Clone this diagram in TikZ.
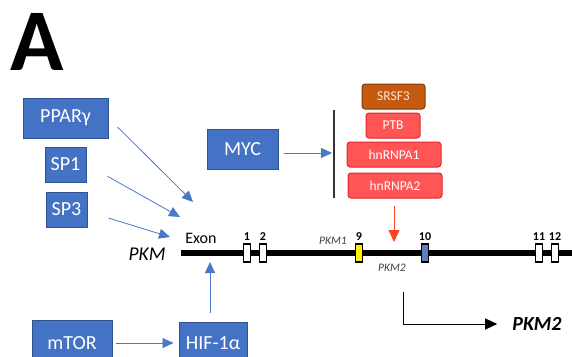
\documentclass[tikz,border=0pt]{standalone}
\usepackage{fontspec}
\setmainfont{Carlito}
\usepackage{xcolor}
\definecolor{tfblue}{HTML}{4472C4}
\definecolor{tfedge}{HTML}{2F528F}
\definecolor{arrowblue}{HTML}{4A78C8}
\definecolor{rbpred}{HTML}{FF5555}
\definecolor{rbpedge}{HTML}{E4252B}
\definecolor{srsfbrown}{HTML}{C55A11}
\definecolor{srsfedge}{HTML}{843C0C}
\definecolor{srsftext}{HTML}{FCE4D6}
\definecolor{exonten}{HTML}{5B80BC}
\definecolor{cuered}{HTML}{FF4422}
\usepackage{tikz}
\usetikzlibrary{arrows.meta,calc}

\tikzset{
  tfbox/.style={rectangle,draw=tfedge,fill=tfblue,line width=1pt,
    text=white,inner sep=0pt,font=\fontsize{20}{22}\selectfont},
  rbpbox/.style={rectangle,rounded corners=3pt,draw=rbpedge,fill=rbpred,
    line width=1pt,text=white,inner sep=0pt,minimum height=25pt,
    font=\fontsize{13.5}{15}\selectfont},
  exonbox/.style={rectangle,draw=black,line width=1.3pt,
    minimum width=7pt,minimum height=18pt,inner sep=0pt,
    label={[font=\fontsize{12}{13}\selectfont\bfseries,
            label distance=-1pt]above:#1}},
  bluearrow/.style={-{Triangle[length=11pt,width=10pt]},arrowblue,line width=0.8pt},
  smallpkm/.style={text=black!75,font=\fontsize{11.5}{12}\selectfont\itshape},
}

\begin{document}
\begin{tikzpicture}[x=1pt,y=-1pt]
  \useasboundingbox (0,0) rectangle (572,356);
  % Panel letter
  \node[anchor=base,font=\fontsize{88}{88}\selectfont\bfseries] (panel) at (37,70) {A};
  % Transcription factors
  \node[tfbox,minimum width=85pt,minimum height=40pt] (ppar) at (65.5,118) {PPARγ};
  \node[tfbox,minimum width=41pt,minimum height=35pt] (spone) at (65.5,164.5) {SP1};
  \node[tfbox,minimum width=41pt,minimum height=35pt] (spthree) at (66.5,209.5) {SP3};
  \node[tfbox,minimum width=71pt,minimum height=40pt] (myc) at (242.5,149) {MYC};
  \node[tfbox,minimum width=80pt,minimum height=46pt] (mtor) at (72,343) {mTOR};
  \node[tfbox,minimum width=68pt,minimum height=42pt] (hif) at (213,343) {HIF-1α};
  % Splicing factors
  \node[rbpbox,draw=srsfedge,fill=srsfbrown,text=srsftext,minimum width=63pt] (srsf) at (393.5,96.5) {SRSF3};
  \node[rbpbox,minimum width=54pt] (ptb) at (393,125.5) {PTB};
  \node[rbpbox,minimum width=94pt] (rnpaone) at (394,154.5) {hnRNPA1};
  \node[rbpbox,minimum width=94pt] (rnpatwo) at (395,185.5) {hnRNPA2};
  % Gene
  \coordinate (genestart) at (181,253);
  \coordinate (geneend) at (572,253);
  \draw[line width=6pt] (genestart) -- (geneend);
  \node[anchor=base,font=\fontsize{19.5}{22}\selectfont\itshape] (pkm) at (147,260) {PKM};
  \node[anchor=base,font=\fontsize{16}{18}\selectfont] (exonlbl) at (201,243) {Exon};
  \node[exonbox=1,fill=white] (eone) at (247,253) {};
  \node[exonbox=2,fill=white] (etwo) at (263,253) {};
  \node[exonbox=9,fill=yellow] (enine) at (359,253) {};
  \node[exonbox=10,fill=exonten] (eten) at (425,253) {};
  \node[exonbox=11,fill=white] (eeleven) at (539,253) {};
  \node[exonbox=12,fill=white] (etwelve) at (555,253) {};
  \node[smallpkm,anchor=base] (pkmonelbl) at (333,244) {PKM1};
  \node[smallpkm,anchor=base] (pkmtwolbl) at (392,271) {PKM2};
  % Arrow targets
  \coordinate (pparmark) at (193,202);
  \coordinate (sponemark) at (180,217);
  \coordinate (spthreemark) at (170,237);
  \coordinate (hifmark) at (210,262);
  \coordinate (splicemark) at (394,242);
  \coordinate (bartop) at (334,110);
  \coordinate (barbot) at (334,198);
  \coordinate (barmid) at (332,153);
  \coordinate (tss) at (403,292);
  % Regulation arrows
  \draw[bluearrow,shorten <=13pt] (ppar.east) -- (pparmark);
  \draw[bluearrow,shorten <=24pt] (spone.east) -- (sponemark);
  \draw[bluearrow,shorten <=22pt] ([yshift=-2pt]spthree.east) -- (spthreemark);
  \draw[bluearrow,shorten <=9pt] (hifmark |- hif.north) -- (hifmark);
  \draw[bluearrow,shorten <=3pt,shorten >=5pt] (mtor) -- (hif);
  \draw[bluearrow,shorten <=5pt] ([yshift=-4pt]myc.east) -- (barmid);
  \draw[black!80,line width=1.5pt] (bartop) -- (barbot);
  \draw[-{Triangle[length=12pt,width=11pt]},cuered,line width=1pt,shorten <=7pt]
    (splicemark |- rnpatwo.south) -- (splicemark);
  % Product
  \node[inner sep=0pt,font=\fontsize{20}{22}\selectfont\bfseries\itshape] (pkmout) at (537,324) {PKM2};
  \draw[-{Triangle[length=12pt,width=11pt]},line width=1pt,shorten >=15pt] (tss) |- (pkmout.west);
\end{tikzpicture}
\end{document}
